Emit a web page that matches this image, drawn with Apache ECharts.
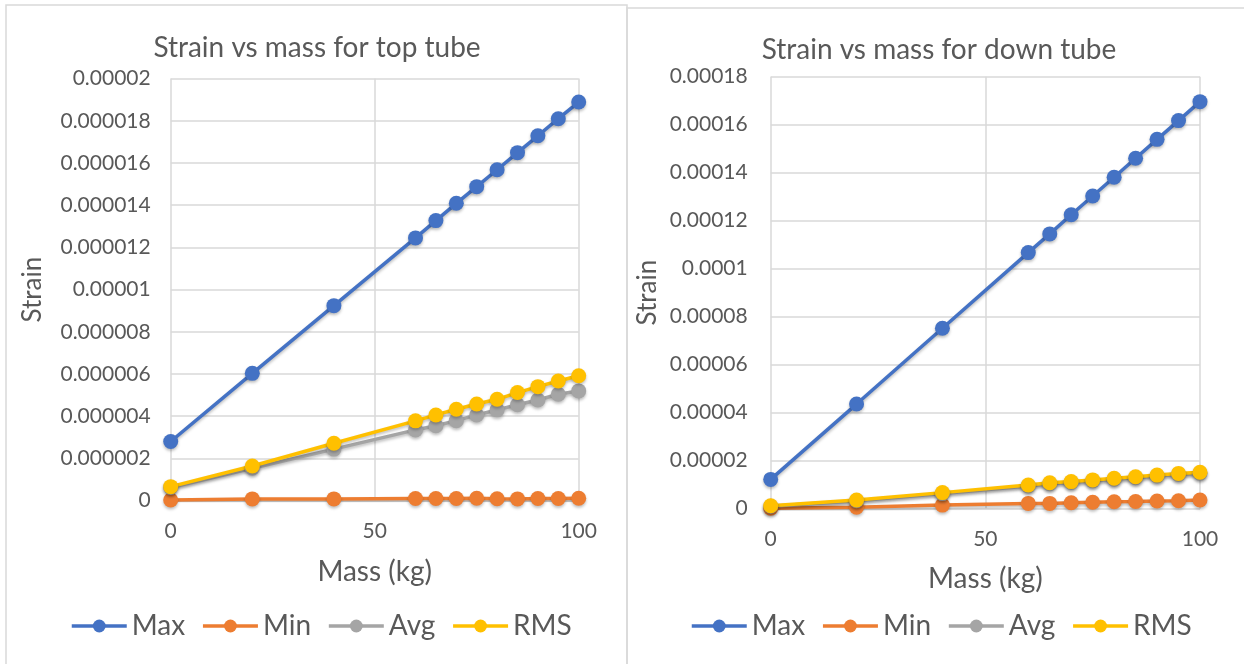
<!DOCTYPE html>
<html>
<head>
<meta charset="utf-8">
<script src="https://cdn.jsdelivr.net/npm/echarts@6/dist/echarts.min.js"></script>
<style>
html,body{margin:0;padding:0;background:#fff;}
#c{width:1244px;height:664px;}
</style>
</head>
<body>
<div id="c"></div>
<script>
// ---- data ----
const mass = [0, 20, 40, 60, 65, 70, 75, 80, 85, 90, 95, 100];
const seriesNames = ['Max', 'Min', 'Avg', 'RMS'];

// top tube (strain)
const topMax = [2.8e-6, 6.03e-6, 9.24e-6, 12.45e-6, 13.27e-6, 14.09e-6, 14.88e-6, 15.68e-6, 16.49e-6, 17.29e-6, 18.1e-6, 18.89e-6];
const topMin = [0.03e-6, 0.08e-6, 0.08e-6, 0.1e-6, 0.1e-6, 0.1e-6, 0.11e-6, 0.09e-6, 0.08e-6, 0.1e-6, 0.1e-6, 0.11e-6];
const topAvg = [0.62e-6, 1.53e-6, 2.44e-6, 3.35e-6, 3.55e-6, 3.79e-6, 4.06e-6, 4.3e-6, 4.54e-6, 4.77e-6, 5.04e-6, 5.2e-6];
const topRms = [0.66e-6, 1.64e-6, 2.72e-6, 3.78e-6, 4.06e-6, 4.33e-6, 4.58e-6, 4.8e-6, 5.12e-6, 5.4e-6, 5.67e-6, 5.92e-6];

// down tube (strain)
const downMax = [1.22e-5, 4.36e-5, 7.52e-5, 10.67e-5, 11.45e-5, 12.25e-5, 13.03e-5, 13.81e-5, 14.6e-5, 15.39e-5, 16.17e-5, 16.96e-5];
const downMin = [0.02e-5, 0.06e-5, 0.15e-5, 0.22e-5, 0.22e-5, 0.25e-5, 0.27e-5, 0.29e-5, 0.3e-5, 0.32e-5, 0.33e-5, 0.36e-5];
const downAvg = [0.1e-5, 0.33e-5, 0.63e-5, 0.95e-5, 1.04e-5, 1.09e-5, 1.16e-5, 1.23e-5, 1.29e-5, 1.36e-5, 1.43e-5, 1.48e-5];
const downRms = [0.125e-5, 0.36e-5, 0.67e-5, 0.99e-5, 1.08e-5, 1.13e-5, 1.2e-5, 1.27e-5, 1.33e-5, 1.4e-5, 1.47e-5, 1.52e-5];

// tick labels
const xTicks = ['0', '50', '100'];
const yTicksTop = ['0', '0.000002', '0.000004', '0.000006', '0.000008', '0.00001', '0.000012', '0.000014', '0.000016', '0.000018', '0.00002'];
const yTicksDown = ['0', '0.00002', '0.00004', '0.00006', '0.00008', '0.0001', '0.00012', '0.00014', '0.00016', '0.00018'];

const titles = ['Strain vs mass for top tube', 'Strain vs mass for down tube'];
const xName = 'Mass (kg)';
const yName = 'Strain';

// ---- styling ----
const colors = ['#4472C4', '#ED7D31', '#A5A5A5', '#FFC000'];
const FONT = 'Lato';
const TXT = '#595959';
const GRID = '#d9d9d9';

function pairs(ys) { return mass.map((x, i) => [x, ys[i]]); }

function xAxis(gridIndex, gap) {
  return {
    type: 'value', gridIndex, min: 0, max: 100, interval: 50,
    name: xName, nameLocation: 'middle', nameGap: gap,
    nameTextStyle: { fontFamily: FONT, fontSize: 28, color: TXT },
    axisLine: { show: false }, axisTick: { show: false },
    axisLabel: { fontFamily: FONT, fontSize: 21, color: TXT, margin: 20,
      formatter: v => xTicks[Math.round(v / 50)] },
    splitLine: { show: true, lineStyle: { color: GRID, width: 1.5 } }
  };
}
function yAxis(gridIndex, max, interval, labels, gap, margin) {
  return {
    type: 'value', gridIndex, min: 0, max, interval,
    name: yName, nameLocation: 'middle', nameGap: gap, nameRotate: 90,
    nameTextStyle: { fontFamily: FONT, fontSize: 26, color: TXT },
    axisLine: { show: false }, axisTick: { show: false },
    axisLabel: { fontFamily: FONT, fontSize: 21, color: TXT, margin,
      formatter: v => labels[Math.round(v / interval)] },
    splitLine: { show: true, lineStyle: { color: GRID, width: 1.5 } }
  };
}
function mk(name, idx, data, axisIdx) {
  return {
    name, type: 'line', xAxisIndex: axisIdx, yAxisIndex: axisIdx,
    data: pairs(data), symbol: 'circle', symbolSize: 15, showSymbol: true,
    color: colors[idx],
    lineStyle: { width: 3.5, color: colors[idx], shadowColor: 'rgba(0,0,0,0.25)', shadowBlur: 3, shadowOffsetY: 2 },
    itemStyle: { color: colors[idx], shadowColor: 'rgba(0,0,0,0.25)', shadowBlur: 3, shadowOffsetY: 2 },
    emphasis: { disabled: true },
    animation: false
  };
}
function legend(left) {
  return {
    data: seriesNames, left, top: 612, padding: 0, itemWidth: 55, itemHeight: 16, itemGap: 16,
    textStyle: { fontFamily: FONT, fontSize: 28, color: TXT },
    lineStyle: { width: 3.5 },
    itemStyle: { shadowBlur: 0 }
  };
}

const chart = echarts.init(document.getElementById('c'), null, { renderer: 'canvas' });
chart.setOption({
  backgroundColor: '#fff',
  animation: false,
  title: [
    { text: titles[0], left: 312, top: 29, textAlign: 'center',
      textStyle: { fontFamily: FONT, fontSize: 28, fontWeight: 'normal', color: TXT } },
    { text: titles[1], left: 934, top: 31, textAlign: 'center',
      textStyle: { fontFamily: FONT, fontSize: 28, fontWeight: 'normal', color: TXT } }
  ],
  graphic: [
    { type: 'polyline', shape: { points: [[6, 664], [6, 5], [627, 5], [627, 664]] },
      style: { stroke: GRID, lineWidth: 1.5, fill: null }, silent: true },
    { type: 'polyline', shape: { points: [[627, 664], [627, 8], [1244, 8]] },
      style: { stroke: GRID, lineWidth: 1.5, fill: null }, silent: true }
  ],
  legend: [legend(70), legend(690)],
  grid: [
    { left: 170.7, top: 78.6, width: 408, height: 422, containLabel: false },
    { left: 770.7, top: 76.7, width: 429.3, height: 432, containLabel: false }
  ],
  xAxis: [xAxis(0, 57), xAxis(1, 56)],
  yAxis: [
    yAxis(0, 0.00002, 0.000002, yTicksTop, 125, 20),
    yAxis(1, 0.00018, 0.00002, yTicksDown, 110, 23)
  ],
  series: [
    mk('Max', 0, topMax, 0), mk('Min', 1, topMin, 0), mk('Avg', 2, topAvg, 0), mk('RMS', 3, topRms, 0),
    mk('Max', 0, downMax, 1), mk('Min', 1, downMin, 1), mk('Avg', 2, downAvg, 1), mk('RMS', 3, downRms, 1)
  ]
});
</script>
</body>
</html>
